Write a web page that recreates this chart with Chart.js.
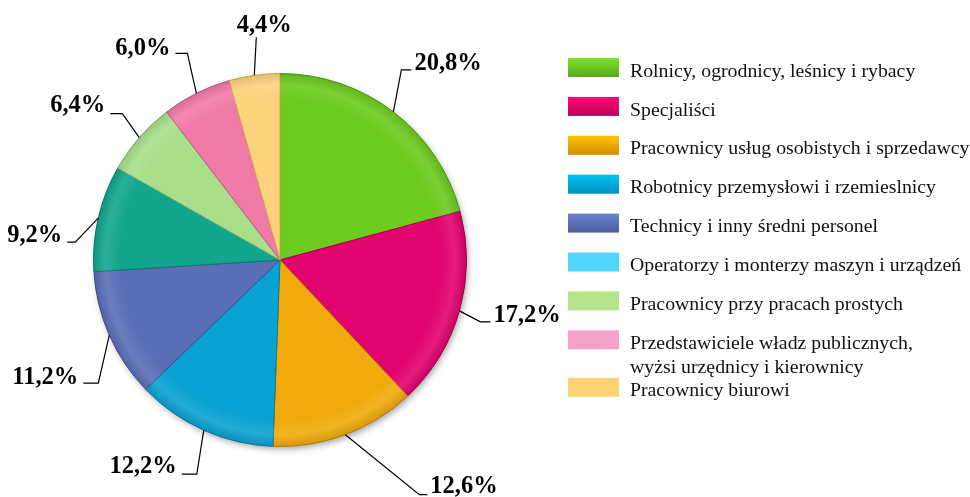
<!DOCTYPE html>
<html><head><meta charset="utf-8">
<script src="https://cdn.jsdelivr.net/npm/chart.js@4.4.0/dist/chart.umd.min.js"></script>
<style>html,body{margin:0;padding:0;background:#fff}#wrap{width:970px;height:497px;position:relative}</style>
</head><body><div id="wrap"><canvas id="c" width="970" height="497"></canvas></div>
<script>
// ---- data ----
const categories = [
  'Rolnicy, ogrodnicy, leśnicy i rybacy',
  'Specjaliści',
  'Pracownicy usług osobistych i sprzedawcy',
  'Robotnicy przemysłowi i rzemieslnicy',
  'Technicy i inny średni personel',
  'Operatorzy i monterzy maszyn i urządzeń',
  'Pracownicy przy pracach prostych',
  'Przedstawiciele władz publicznych,\nwyżsi urzędnicy i kierownicy',
  'Pracownicy biurowi'
];
const shares = [20.8, 17.2, 12.6, 12.2, 11.2, 9.2, 6.4, 6.0, 4.4];
const valueLabels = ['20,8%', '17,2%', '12,6%', '12,2%', '11,2%', '9,2%', '6,4%', '6,0%', '4,4%'];

// ---- styles ----
const sliceColors = ['#6ccb1e', '#e2036f', '#f0aa0c', '#0aa2d2', '#5b6fb9', '#13a68e', '#a9df8a', '#f17aa9', '#fdd27c'];
const sliceBorders = ['#4f9a14', '#a8004f', '#b88008', '#077aa0', '#404f8c', '#0c7a68', '#86b86a', '#c05a84', '#d0a858'];
const legendTop = ['#7de626', '#ff0a78', '#ffc200', '#00c4f4', '#6c84d4', '#52d8ff', '#b4e48c', '#f6a2c8', '#fed472'];
const legendBottom = ['#58a620', '#c0005a', '#d68e00', '#0090c0', '#4a5c9c', '#52d8ff', '#b4e48c', '#f6a2c8', '#fed472'];
// leader line layout: elbow offset from slice edge, horizontal run, text offset
const leaderLayout = [
  {ex: 8, ey: -42, hx: 10, ty: -6},
  {ex: 21, ey: 11, hx: 10, ty: -6},
  {ex: 74, ey: 60, hx: 8, ty: -8},
  {ex: -7, ey: 44, hx: -15, ty: -8},
  {ex: -11, ey: 48, hx: -15, ty: -5},
  {ex: -23, ey: 24, hx: -8, ty: -7},
  {ex: -17, ey: -24, hx: -12, ty: -8},
  {ex: -9, ey: -40, hx: -12, ty: -5},
  {ex: 2, ey: -38, hx: 0, ty: -12}
];

const shadowPlugin = {
  id: 'pieShadow',
  beforeDatasetsDraw(chart) {
    const arc = chart.getDatasetMeta(0).data[0];
    if (!arc) return;
    const {x, y, outerRadius} = arc.getProps(['x', 'y', 'outerRadius'], true);
    const ctx = chart.ctx;
    ctx.save();
    ctx.shadowColor = 'rgba(0,0,0,0.4)';
    ctx.shadowBlur = 7;
    ctx.shadowOffsetX = 2;
    ctx.shadowOffsetY = 3;
    ctx.beginPath();
    ctx.arc(x, y, outerRadius - 1, 0, Math.PI * 2);
    ctx.fillStyle = '#888';
    ctx.fill();
    ctx.restore();
  },
  afterDatasetsDraw(chart) {
    const arc = chart.getDatasetMeta(0).data[0];
    const {x, y, outerRadius} = arc.getProps(['x', 'y', 'outerRadius'], true);
    const ctx = chart.ctx;
    ctx.save();
    const g = ctx.createRadialGradient(x, y, outerRadius * 0.86, x, y, outerRadius);
    g.addColorStop(0, 'rgba(255,255,255,0)');
    g.addColorStop(0.55, 'rgba(255,255,255,0.10)');
    g.addColorStop(1, 'rgba(0,0,0,0.10)');
    ctx.beginPath();
    ctx.arc(x, y, outerRadius, 0, Math.PI * 2);
    ctx.fillStyle = g;
    ctx.fill();
    ctx.restore();
  }
};

const leaderPlugin = {
  id: 'leaders',
  afterDraw(chart) {
    const ctx = chart.ctx;
    const meta = chart.getDatasetMeta(0);
    ctx.save();
    ctx.font = 'bold 24.5px "Liberation Serif", "Times New Roman", serif';
    ctx.fillStyle = '#000';
    ctx.strokeStyle = '#000';
    ctx.lineWidth = 1.2;
    meta.data.forEach((arc, i) => {
      const p = arc.getProps(['x', 'y', 'startAngle', 'endAngle', 'outerRadius'], true);
      const mid = (p.startAngle + p.endAngle) / 2;
      const ax = p.x + Math.cos(mid) * p.outerRadius;
      const ay = p.y + Math.sin(mid) * p.outerRadius;
      const L = leaderLayout[i];
      const bx = ax + L.ex, by = ay + L.ey;
      const cx = bx + L.hx;
      ctx.beginPath();
      ctx.moveTo(ax, ay);
      ctx.lineTo(bx, by);
      ctx.lineTo(cx, by);
      ctx.stroke();
      ctx.textBaseline = 'middle';
      if (L.hx > 0) { ctx.textAlign = 'left'; ctx.fillText(valueLabels[i], cx + 3, by + L.ty); }
      else if (L.hx < 0) { ctx.textAlign = 'right'; ctx.fillText(valueLabels[i], cx - 5, by + L.ty); }
      else { ctx.textAlign = 'center'; ctx.fillText(valueLabels[i], cx + 8, by + L.ty); }
    });
    ctx.restore();
  }
};

const legendPlugin = {
  id: 'sideLegend',
  afterDraw(chart) {
    const ctx = chart.ctx;
    const boxX = 568, boxW = 51, boxH = 19, textX = 630;
    let y = 67.5;
    ctx.save();
    ctx.font = '19.8px "Liberation Serif", "Times New Roman", serif';
    ctx.textAlign = 'left';
    ctx.textBaseline = 'middle';
    chart.data.labels.forEach((lab, i) => {
      const lines = lab.split('\n');
      const g = ctx.createLinearGradient(0, y - boxH / 2, 0, y + boxH / 2);
      g.addColorStop(0, legendTop[i]);
      g.addColorStop(1, legendBottom[i]);
      ctx.fillStyle = g;
      ctx.fillRect(boxX, y - boxH / 2, boxW, boxH);
      ctx.fillStyle = '#111';
      lines.forEach((ln, k) => ctx.fillText(ln, textX, y + 4 + k * 24));
      y += 38.9 + (lines.length - 1) * 8.6;
    });
    ctx.restore();
  }
};

new Chart(document.getElementById('c'), {
  type: 'pie',
  data: {
    labels: categories,
    datasets: [{
      data: shares,
      backgroundColor: sliceColors,
      borderColor: sliceBorders,
      borderWidth: 1
    }]
  },
  options: {
    responsive: false,
    animation: false,
    devicePixelRatio: 1,
    layout: {padding: {left: 93, right: 503, top: 73, bottom: 50}},
    plugins: {legend: {display: false}, tooltip: {enabled: false}}
  },
  plugins: [shadowPlugin, leaderPlugin, legendPlugin]
});
</script>
</body></html>
